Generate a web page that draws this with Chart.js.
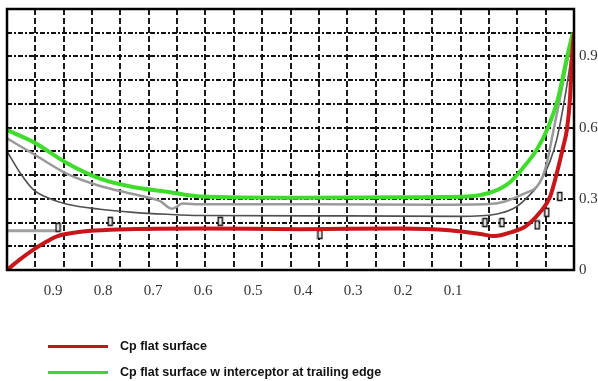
<!DOCTYPE html>
<html>
<head>
<meta charset="utf-8">
<script src="https://cdn.jsdelivr.net/npm/chart.js@4/dist/chart.umd.min.js"></script>
<style>
  html, body { margin: 0; padding: 0; background: #fff; }
  #wrap { position: relative; width: 598px; height: 381px; overflow: hidden; }
  #c { position: absolute; left: 0; top: 0; }
  .lg { position: absolute; left: 48px; height: 14px; display: flex; align-items: center;
        font: bold 12.5px "Liberation Sans", Arial, sans-serif; color: #111; white-space: nowrap; }
  .lg .ln { width: 60px; height: 3px; margin-right: 12px; }
</style>
</head>
<body>
<div id="wrap">
  <canvas id="c" width="598" height="381"></canvas>
</div>
<script>
// ---- data (x = chord position, reversed axis; y = Cp) ----
const redX   = [1.0, 0.977, 0.954, 0.93, 0.912, 0.866, 0.818, 0.66, 0.483, 0.307, 0.22, 0.166, 0.14, 0.11, 0.086, 0.06, 0.042, 0.028, 0.02, 0.012, 0.007, 0.0035, 0.0];
const redY   = [0.0, 0.045, 0.085, 0.12, 0.142, 0.162, 0.17, 0.175, 0.172, 0.175, 0.168, 0.152, 0.143, 0.16, 0.183, 0.243, 0.31, 0.43, 0.51, 0.6, 0.725, 0.9, 1.0];

const greenX = [1.0, 0.954, 0.894, 0.836, 0.778, 0.718, 0.66, 0.483, 0.307, 0.189, 0.143, 0.113, 0.09, 0.065, 0.046, 0.028, 0.012, 0.002];
const greenY = [0.59, 0.54, 0.45, 0.385, 0.35, 0.33, 0.31, 0.305, 0.307, 0.31, 0.33, 0.37, 0.43, 0.51, 0.6, 0.725, 0.9, 1.0];

const grayAX = [1.0, 0.954, 0.894, 0.836, 0.778, 0.73, 0.709, 0.69, 0.66, 0.45, 0.25, 0.148, 0.09, 0.06, 0.048, 0.037, 0.025, 0.012, 0.0];
const grayAY = [0.555, 0.49, 0.405, 0.354, 0.32, 0.29, 0.258, 0.28, 0.277, 0.277, 0.275, 0.278, 0.32, 0.37, 0.45, 0.58, 0.72, 0.88, 1.0];

const grayBX = [1.0, 0.977, 0.954, 0.924, 0.894, 0.836, 0.778, 0.718, 0.66, 0.4, 0.2, 0.138, 0.106, 0.085, 0.06, 0.042, 0.03, 0.018, 0.008, 0.0];
const grayBY = [0.5, 0.41, 0.34, 0.3, 0.277, 0.256, 0.243, 0.235, 0.23, 0.228, 0.226, 0.235, 0.26, 0.3, 0.37, 0.46, 0.555, 0.7, 0.85, 1.0];

const grayCX = [1.0, 0.95, 0.91];
const grayCY = [0.165, 0.165, 0.165];

const markX  = [0.910, 0.818, 0.624, 0.448, 0.157, 0.127, 0.065, 0.048, 0.025];
const markY  = [0.18, 0.205, 0.205, 0.15, 0.2, 0.2, 0.19, 0.243, 0.31];

const xTickValues = [0.9, 0.8, 0.7, 0.6, 0.5, 0.4, 0.3, 0.2, 0.1];
const xTickLabels = ['0.9', '0.8', '0.7', '0.6', '0.5', '0.4', '0.3', '0.2', '0.1'];
const yTickValues = [0, 0.3, 0.6, 0.9];
const yTickLabels = ['0', '0.3', '0.6', '0.9'];
const legendLabels = ['Cp flat surface', 'Cp flat surface w interceptor at trailing edge'];
const legendColors = ['#b8191b', '#3fd43a'];

const pts = (xs, ys) => xs.map((x, i) => ({ x: x, y: ys[i] }));

// hollow tall rectangle marker
const mk = document.createElement('canvas');
mk.width = 7; mk.height = 11;
(function () {
  const c = mk.getContext('2d');
  c.fillStyle = '#fff'; c.fillRect(1, 1, 5, 9);
  c.strokeStyle = '#111'; c.lineWidth = 1.5; c.strokeRect(1.5, 1.5, 4, 8);
})();

const framePlugin = {
  id: 'frame',
  afterDraw(chart) {
    const a = chart.chartArea, ctx = chart.ctx;
    ctx.save();
    ctx.strokeStyle = '#000';
    ctx.lineWidth = 2.5;
    ctx.setLineDash([]);
    ctx.strokeRect(a.left, a.top, a.right - a.left, a.bottom - a.top);
    ctx.restore();
  }
};

const noPad = (s) => { s.paddingTop = 0; s.paddingBottom = 0; s.paddingLeft = 0; s.paddingRight = 0; };

const lineDs = (label, xs, ys, color, width) => ({
  label: label, data: pts(xs, ys), borderColor: color, backgroundColor: color,
  borderWidth: width, pointRadius: 0, cubicInterpolationMode: 'monotone', fill: false
});

const serif = { family: '"Liberation Serif", "Times New Roman", serif', size: 15 };

new Chart(document.getElementById('c'), {
  type: 'line',
  data: {
    datasets: [
      lineDs(legendLabels[0], redX, redY, '#c8161a', 4),
      lineDs(legendLabels[1], greenX, greenY, '#3fdc2c', 4),
      { label: 'markers', data: pts(markX, markY), showLine: false, pointStyle: mk, pointRadius: 4, borderColor: '#111' },
      lineDs('gray a', grayAX, grayAY, '#9a9a9a', 2.5),
      lineDs('gray b', grayBX, grayBY, '#505050', 1.6),
      lineDs('gray c', grayCX, grayCY, '#a0a0a0', 3)
    ]
  },
  options: {
    responsive: false,
    animation: false,
    devicePixelRatio: 1,
    layout: { padding: { left: 7, top: 9, right: 0, bottom: 81 } },
    plugins: { legend: { display: false }, tooltip: { enabled: false } },
    scales: {
      x: {
        type: 'linear', position: 'bottom', reverse: true, min: 0, max: 1,
        ticks: { display: false, stepSize: 0.05, maxTicksLimit: 40 },
        grid: { display: true, drawTicks: false, color: '#1a1a1a', lineWidth: 2 },
        border: { display: false, dash: [6, 3] },
        afterFit(s) { s.height = 0; noPad(s); }
      },
      x2: {
        type: 'linear', position: 'bottom', reverse: true, min: -0.142, max: 0.992,
        grid: { display: false, drawTicks: false },
        border: { display: false },
        ticks: {
          autoSkip: false, maxRotation: 0, minRotation: 0, padding: 12,
          color: '#333', font: serif,
          callback(v, i) { return xTickLabels[i]; }
        },
        afterBuildTicks(s) { s.ticks = xTickValues.map(v => ({ value: v })); },
        afterFit(s) { s.height = 30; noPad(s); }
      },
      y: {
        type: 'linear', position: 'right', min: 0, max: 1.1,
        grid: { display: true, drawTicks: false, color: '#111', lineWidth: 2 },
        border: { display: false, dash: [5, 2, 2, 2] },
        ticks: {
          stepSize: 0.1, autoSkip: false, padding: 5, maxTicksLimit: 40,
          color: '#333', font: serif,
          callback(v) {
            const idx = yTickValues.findIndex(t => Math.abs(t - v) < 1e-6);
            return idx >= 0 ? yTickLabels[idx] : '';
          }
        },
        afterFit(s) { s.width = 24; noPad(s); }
      }
    }
  },
  plugins: [framePlugin]
});

// HTML legend
const wrap = document.getElementById('wrap');
const legendY = [339, 365];
legendLabels.forEach((t, i) => {
  const d = document.createElement('div');
  d.className = 'lg';
  d.style.top = legendY[i] + 'px';
  const ln = document.createElement('span');
  ln.className = 'ln';
  ln.style.background = legendColors[i];
  d.appendChild(ln);
  d.appendChild(document.createTextNode(t));
  wrap.appendChild(d);
});
</script>
</body>
</html>
